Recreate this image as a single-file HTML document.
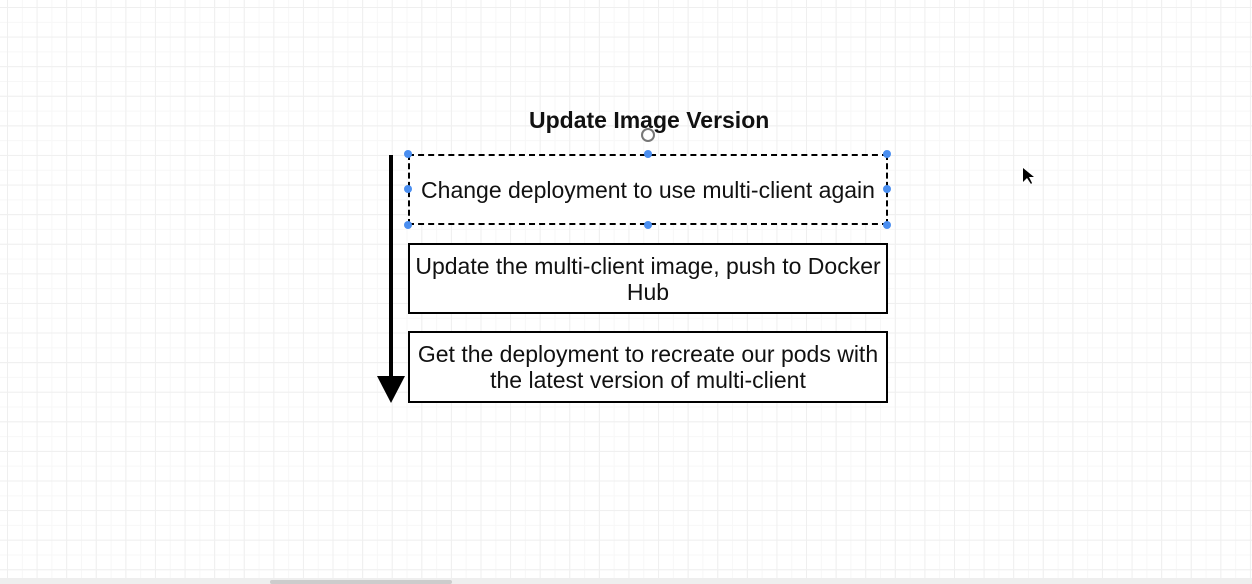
<!DOCTYPE html>
<html><head><style>
html,body{margin:0;padding:0;}
body{width:1252px;height:584px;position:relative;overflow:hidden;background:#fff;
background-image:linear-gradient(#efefef 1px,transparent 1px),linear-gradient(90deg,#efefef 1px,transparent 1px),linear-gradient(#f7f7f7 1px,transparent 1px),linear-gradient(90deg,#f7f7f7 1px,transparent 1px);
background-size:29.6px 29.6px,29.6px 29.6px,14.8px 14.8px,14.8px 14.8px;background-position:7px 7px;font-family:"Liberation Sans",sans-serif;}
.box{position:absolute;left:408px;width:476px;border:2px solid #000;background:#fff;display:flex;align-items:center;justify-content:center;text-align:center;font-size:23px;line-height:26px;color:#111;box-sizing:content-box;}
.h{position:absolute;width:8px;height:8px;border-radius:50%;background:#4a8ef0;}
</style></head><body>
<div style="position:absolute;left:529px;top:107px;font-weight:bold;font-size:23px;color:#111;">Update Image Version</div>
<div style="position:absolute;left:641px;top:128px;width:10px;height:10px;border:2px solid #777;border-radius:50%;"></div>
<div class="box" style="top:154px;height:67px;border-style:dashed;">Change deployment to use multi-client again</div>
<div class="box" style="top:243px;height:67px;">Update the multi-client image, push to Docker<br>Hub</div>
<div class="box" style="top:331px;height:68px;">Get the deployment to recreate our pods with<br>the latest version of multi-client</div>
<div class="h" style="left:404px;top:150px"></div><div class="h" style="left:644px;top:150px"></div><div class="h" style="left:883px;top:150px"></div>
<div class="h" style="left:404px;top:185px"></div><div class="h" style="left:883px;top:185px"></div>
<div class="h" style="left:404px;top:221px"></div><div class="h" style="left:644px;top:221px"></div><div class="h" style="left:883px;top:221px"></div>
<svg style="position:absolute;left:0;top:0" width="1252" height="584">
<line x1="391" y1="155" x2="391" y2="380" stroke="#000" stroke-width="4"/>
<polygon points="377,376 405,376 391,403" fill="#000"/>
<polygon points="1023,168 1023,182 1027,178 1031,184 1032,183 1029,177 1034,177" fill="#000"/>
</svg>
<div style="position:absolute;left:0;top:578px;width:1252px;height:6px;background:#eee;"></div>
<div style="position:absolute;left:270px;top:580px;width:182px;height:4px;background:#ccc;border-radius:2px;"></div>
</body></html>
